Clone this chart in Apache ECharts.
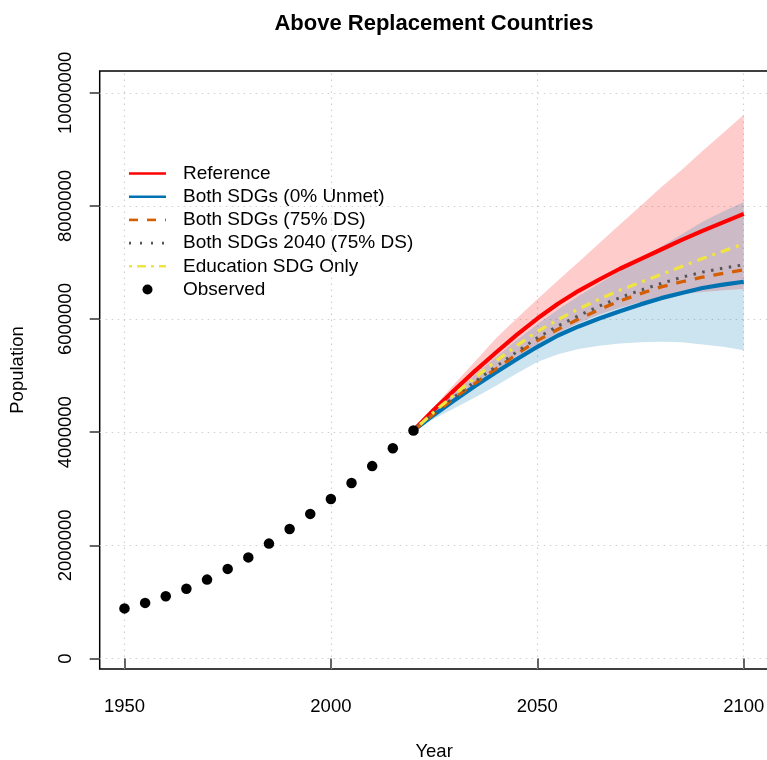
<!DOCTYPE html>
<html>
<head>
<meta charset="utf-8">
<script src="https://cdn.jsdelivr.net/npm/echarts@6.0.0/dist/echarts.min.js"></script>
<style>
  html, body { margin: 0; padding: 0; background: #ffffff; }
  #chart { width: 767px; height: 760px; }
</style>
</head>
<body>
<div id="chart"></div>
<script>
// Observed population, five-year steps
const observedYears = [1950, 1955, 1960, 1965, 1970, 1975, 1980, 1985, 1990, 1995, 2000, 2005, 2010, 2015, 2020];
const observedPop = [886000, 983000, 1101000, 1234000, 1395000, 1584000, 1787000, 2031000, 2289000, 2556000, 2821000, 3101000, 3401000, 3716000, 4030000];

// Projection years
const projYears = [2020, 2025, 2030, 2035, 2040, 2045, 2050, 2055, 2060, 2065, 2070, 2075, 2080, 2085, 2090, 2095, 2100];

// Reference scenario with its interval
const reference   = [4030000, 4400000, 4750000, 5090000, 5410000, 5720000, 6010000, 6270000, 6500000, 6700000, 6890000, 7060000, 7230000, 7400000, 7560000, 7710000, 7860000];
const referenceLo = [4030000, 4330000, 4600000, 4860000, 5100000, 5340000, 5560000, 5760000, 5930000, 6080000, 6200000, 6300000, 6380000, 6440000, 6480000, 6510000, 6530000];
const referenceHi = [4030000, 4450000, 4860000, 5260000, 5660000, 6010000, 6350000, 6680000, 7010000, 7340000, 7670000, 8000000, 8330000, 8640000, 8970000, 9290000, 9610000];

// Both SDGs (0% unmet) with its interval
const bothSdgs0   = [4030000, 4310000, 4570000, 4820000, 5060000, 5290000, 5510000, 5710000, 5870000, 6010000, 6140000, 6260000, 6370000, 6460000, 6550000, 6610000, 6660000];
const bothSdgs0Lo = [4030000, 4240000, 4430000, 4620000, 4820000, 5040000, 5240000, 5380000, 5470000, 5530000, 5570000, 5590000, 5600000, 5590000, 5550000, 5510000, 5450000];
const bothSdgs0Hi = [4030000, 4370000, 4700000, 5020000, 5330000, 5630000, 5910000, 6170000, 6410000, 6630000, 6850000, 7060000, 7280000, 7500000, 7720000, 7900000, 8070000];

// Remaining scenarios
const bothSdgs75   = [4030000, 4330000, 4610000, 4870000, 5120000, 5380000, 5620000, 5820000, 6000000, 6170000, 6320000, 6450000, 6570000, 6660000, 6740000, 6810000, 6870000];
const bothSdgs2040 = [4030000, 4340000, 4630000, 4900000, 5160000, 5420000, 5670000, 5880000, 6060000, 6230000, 6380000, 6510000, 6630000, 6740000, 6830000, 6900000, 6960000];
const educationOnly = [4030000, 4360000, 4670000, 4970000, 5260000, 5530000, 5780000, 5990000, 6180000, 6350000, 6510000, 6650000, 6790000, 6930000, 7070000, 7200000, 7330000];

// Axis ticks
const xTicks = [1950, 2000, 2050, 2100];
const yTicks = [0, 2000000, 4000000, 6000000, 8000000, 10000000];

const FONT = "'Liberation Sans', Arial, Helvetica, sans-serif";
const COL = {
  reference: '#FF0000',
  both0: '#0072B2',
  both75: '#D55E00',
  both2040: '#555555',
  edu: '#F0E442'
};

const pairs = (vals) => projYears.map((y, i) => [y, vals[i]]);

function band(lo, hi, fill, name) {
  return {
    name: name,
    type: 'custom',
    silent: true,
    animation: false,
    z: 2,
    data: projYears.map((y, i) => [y, lo[i], hi[i]]),
    encode: { x: 0, y: [1, 2] },
    renderItem: function (params, api) {
      if (params.dataIndex !== 0) return null;
      const pts = [];
      for (let i = 0; i < projYears.length; i++) pts.push(api.coord([projYears[i], hi[i]]));
      for (let i = projYears.length - 1; i >= 0; i--) pts.push(api.coord([projYears[i], lo[i]]));
      return { type: 'polygon', shape: { points: pts }, style: { fill: fill } };
    }
  };
}

function line(name, vals, color, width, dash) {
  return {
    name: name,
    type: 'line',
    z: 2,
    data: pairs(vals),
    symbol: 'none',
    showSymbol: false,
    smooth: false,
    animation: false,
    silent: true,
    lineStyle: { color: color, width: width, type: dash || 'solid', cap: 'butt', join: 'round' }
  };
}

// Legend drawn as graphic rows
const legendRows = [
  { label: 'Reference', color: COL.reference, dash: null },
  { label: 'Both SDGs (0% Unmet)', color: COL.both0, dash: null },
  { label: 'Both SDGs (75% DS)', color: COL.both75, dash: [9, 9] },
  { label: 'Both SDGs 2040 (75% DS)', color: COL.both2040, dash: [2, 9] },
  { label: 'Education SDG Only', color: COL.edu, dash: [3, 5, 9, 5] },
  { label: 'Observed', dot: true }
];
const legendGraphics = [];
legendRows.forEach((r, i) => {
  const cy = 173.5 + i * 23.2;
  if (r.dot) {
    legendGraphics.push({ type: 'circle', shape: { cx: 147.5, cy: cy, r: 5 }, style: { fill: '#000' } });
  } else {
    legendGraphics.push({
      type: 'line',
      shape: { x1: 129, y1: cy, x2: 166, y2: cy },
      style: { stroke: r.color, lineWidth: 2.6, lineDash: r.dash || null }
    });
  }
  legendGraphics.push({
    type: 'text', x: 183, y: cy,
    style: { text: r.label, font: '19px ' + FONT, fill: '#000', textVerticalAlign: 'middle', verticalAlign: 'middle' }
  });
});

const chart = echarts.init(document.getElementById('chart'), null, { renderer: 'canvas' });
chart.setOption({
  backgroundColor: '#ffffff',
  animation: false,
  textStyle: { fontFamily: FONT },
  grid: {
    left: 99.7, right: -1.5, top: 71, bottom: 91,
    outerBoundsMode: 'none', containLabel: false,
    show: true, borderColor: '#000', borderWidth: 1.5, backgroundColor: 'transparent'
  },
  xAxis: {
    type: 'value', min: 1944, max: 2106,
    name: 'Year', nameLocation: 'middle', nameGap: 73,
    nameTextStyle: { fontSize: 18.5, color: '#000', fontFamily: FONT },
    axisLine: { show: false },
    axisTick: { show: true, customValues: xTicks, length: 10, lineStyle: { color: '#333', width: 1.5 } },
    axisLabel: { customValues: xTicks, fontSize: 18.5, color: '#000', margin: 28, fontFamily: FONT,
      hideOverlap: false, formatter: (v) => String(v) },
    splitLine: { show: false }
  },
  yAxis: {
    type: 'value', min: -185600, max: 10385600,
    name: 'Population', nameLocation: 'middle', nameGap: 72, nameRotate: 90,
    nameTextStyle: { fontSize: 18.5, color: '#000', fontFamily: FONT },
    axisLine: { show: false },
    axisTick: { show: true, customValues: yTicks, length: 10, lineStyle: { color: '#333', width: 1.5 } },
    axisLabel: { customValues: yTicks, fontSize: 18.5, color: '#000', margin: 24, rotate: 90,
      align: 'center', verticalAlign: 'bottom', fontFamily: FONT, formatter: (v) => String(Math.round(v)) },
    splitLine: { show: false }
  },
  graphic: [
    { type: 'text', x: 434, y: 24,
      style: { text: 'Above Replacement Countries', font: 'bold 22px ' + FONT, fill: '#000',
        textAlign: 'center', align: 'center', textVerticalAlign: 'middle', verticalAlign: 'middle' } }
  ].concat(legendGraphics),
  series: [
    // dotted grid, kept underneath everything else
    {
      type: 'line', data: [], silent: true, animation: false, z: 0,
      markLine: {
        silent: true, symbol: ['none', 'none'], label: { show: false }, z: 0,
        lineStyle: { color: '#d0d0d0', type: [1.5, 4.5], width: 1.2 },
        data: xTicks.map(v => ({ xAxis: v })).concat(yTicks.map(v => ({ yAxis: v })))
      }
    },
    band(referenceLo, referenceHi, 'rgba(255,0,0,0.2)', 'Reference interval'),
    line('Reference', reference, COL.reference, 4.2),
    band(bothSdgs0Lo, bothSdgs0Hi, 'rgba(0,114,178,0.2)', 'Both SDGs interval'),
    line('Both SDGs (0% Unmet)', bothSdgs0, COL.both0, 4.2),
    line('Both SDGs (75% DS)', bothSdgs75, COL.both75, 3.3, [10, 9]),
    line('Both SDGs 2040 (75% DS)', bothSdgs2040, COL.both2040, 3, [2.5, 6.5]),
    line('Education SDG Only', educationOnly, COL.edu, 3.3, [3, 6, 10, 6]),
    {
      name: 'Observed', type: 'scatter', silent: true, animation: false, z: 5,
      data: observedYears.map((y, i) => [y, observedPop[i]]),
      symbol: 'circle', symbolSize: 10.5,
      itemStyle: { color: '#000', opacity: 1 }
    }
  ]
});
</script>
</body>
</html>
